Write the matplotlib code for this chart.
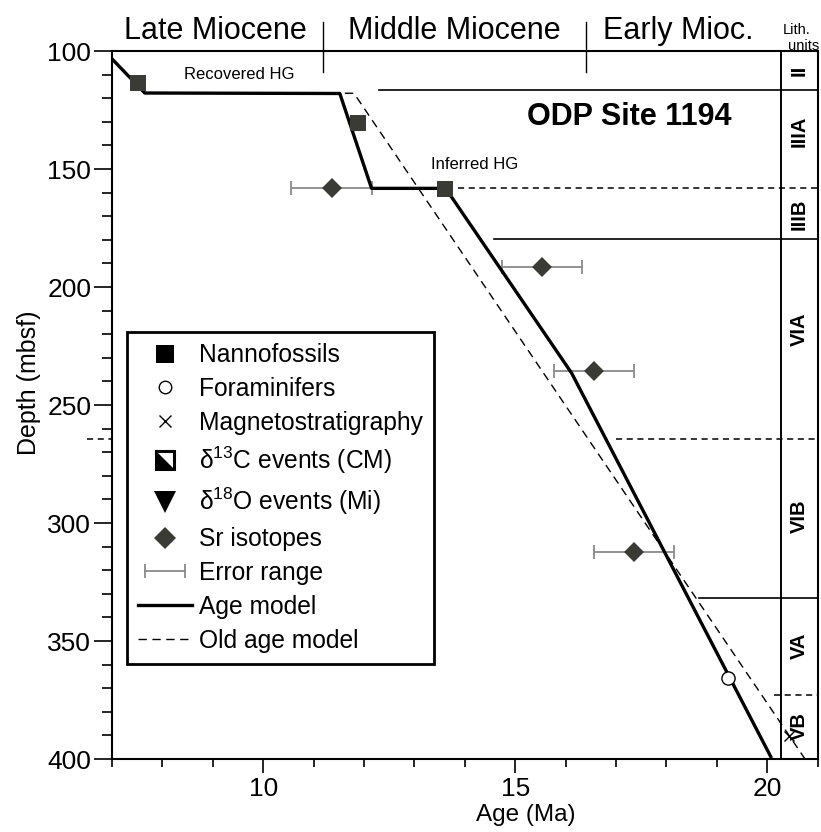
import numpy as np
import matplotlib
matplotlib.use("Agg")
import matplotlib.pyplot as plt
from matplotlib.lines import Line2D
from matplotlib.path import Path
from matplotlib.legend_handler import HandlerLine2D, HandlerTuple

plt.rcParams['font.family'] = ['Liberation Sans', 'DejaVu Sans']
plt.rcParams['mathtext.fontset'] = 'custom'
plt.rcParams['mathtext.rm'] = 'Liberation Sans'

# --- age model (age in Ma, depth in mbsf) ---
age_model_age = [6.99, 7.65, 11.52, 12.15, 13.62, 16.12, 20.07]
age_model_depth = [103.1, 117.8, 118.0, 158.2, 158.2, 236.5, 399.0]

old_model_age = [11.62, 11.80, 20.75]
old_model_depth = [117.9, 117.9, 400.0]

# --- datums ---
nanno_age = [7.52, 11.89, 13.61]
nanno_depth = [113.6, 130.4, 158.6]

sr_age = np.array([11.36, 15.53, 16.56, 17.36])
sr_depth = [158.2, 191.4, 235.5, 312.4]
sr_err_lo = np.array([10.56, 14.73, 15.77, 16.57])
sr_err_hi = np.array([12.15, 16.33, 17.36, 18.16])

foram_age = [19.23]
foram_depth = [365.5]

magneto_age = [20.44]
magneto_depth = [390.3]

# --- lithologic units ---
lith_units = ['II', 'IIIA', 'IIIB', 'VIA', 'VIB', 'VA', 'VB']
lith_label_depth = [108, 134, 169, 218, 297, 352, 386]
lith_bounds = [116.5, 158.2, 179.7, 264.5, 331.9, 372.9]
lith_bound_start = [12.3, 13.87, 14.58, 17.0, 18.65, 20.13]
lith_bound_dashed = [False, True, False, True, False, True]
lith_col_age = 20.27

# --- epochs ---
epoch_names = ['Late Miocene', 'Middle Miocene', 'Early Mioc.']
epoch_label_age = [9.05, 13.8, 18.23]
epoch_bounds = [11.19, 16.40]

dark = '#3b3b36'
err_gray = '#8a8a8a'

fig = plt.figure(figsize=(8.21, 8.32), dpi=100, facecolor='white')
ax = fig.add_axes([0.1364, 0.0877, 0.8595, 0.851])

ax.set_xlim(7, 21)
ax.set_ylim(400, 100)

# error bars and Sr isotope ages
ax.errorbar(sr_age, sr_depth, xerr=[sr_age - sr_err_lo, sr_err_hi - sr_age],
            fmt='none', ecolor=err_gray, elinewidth=1.3, capsize=4.7, capthick=1.3, zorder=2)

# age models
ax.plot(old_model_age, old_model_depth, color='black', lw=1.0, dashes=(6, 4), zorder=3)
ax.plot(age_model_age, age_model_depth, color='black', lw=2.4, zorder=4)

ax.plot(sr_age, sr_depth, ls='none', marker='D', ms=10.5, color=dark, mew=0, zorder=5)
ax.plot(nanno_age, nanno_depth, ls='none', marker='s', ms=11, color=dark, mew=0, zorder=5)
ax.plot(foram_age, foram_depth, ls='none', marker='o', ms=9.5, mfc='white', mec='black',
        mew=1.0, zorder=5)
ax.plot(magneto_age, magneto_depth, ls='none', marker='x', ms=7, color='black', mew=1.0, zorder=5)

# lithologic column
ax.axvline(lith_col_age, color='black', lw=1.4)
for d, a0, dashed in zip(lith_bounds, lith_bound_start, lith_bound_dashed):
    if dashed:
        ax.plot([a0, 21], [d, d], color='black', lw=1.1, dashes=(4, 3))
    else:
        ax.plot([a0, 21], [d, d], color='black', lw=1.2)
# unit VIA/VIB boundary marked outside the depth axis
ax.plot([6.5, 7.0], [lith_bounds[3], lith_bounds[3]], color='black', lw=1.1,
        dashes=(4, 3), clip_on=False)
for name, d in zip(lith_units, lith_label_depth):
    ax.text((lith_col_age + 21) / 2, d, name, rotation=90, ha='center', va='center',
            fontsize=14.5, fontweight='bold')
ax.text(20.59, 91.1, 'Lith.', ha='center', va='center', fontsize=10.5, clip_on=False)
ax.text(20.73, 97.9, 'units', ha='center', va='center', fontsize=10.5, clip_on=False)

# epoch header
for a in epoch_bounds:
    ax.plot([a, a], [87.7, 108.7], color='black', lw=1.0, clip_on=False)
for name, a in zip(epoch_names, epoch_label_age):
    ax.text(a, 91.5, name, ha='center', va='center', fontsize=22, clip_on=False)

ax.text(9.52, 110, 'Recovered HG', ha='center', va='center', fontsize=12)
ax.text(14.2, 148, 'Inferred HG', ha='center', va='center', fontsize=12)
ax.text(17.27, 128, 'ODP Site 1194', ha='center', va='center', fontsize=22, fontweight='bold')

# axes and ticks
ax.set_xticks([10, 15, 20])
ax.set_xticks(np.arange(7, 22, 1), minor=True)
ax.set_yticks(np.arange(100, 401, 50))
ax.set_yticks(np.arange(100, 401, 10), minor=True)
ax.tick_params(axis='x', which='major', length=10, width=1.2, labelsize=19, pad=3)
ax.tick_params(axis='x', which='minor', length=6, width=1.2)
ax.tick_params(axis='y', which='major', length=13, width=1.2, labelsize=19, pad=2)
ax.tick_params(axis='y', which='minor', length=7, width=1.2)
for s in ax.spines.values():
    s.set_linewidth(1.5)

ax.set_xlabel('Age (Ma)', fontsize=17.5)
ax.xaxis.set_label_coords(0.587, -0.064)
ax.set_ylabel('Depth (mbsf)', fontsize=18)
ax.yaxis.set_label_coords(-0.100, 0.532)

# legend
half_sq = Path([(-1, -1), (-1, 1), (1, -1), (-1, -1)], closed=True)
h_nanno = Line2D([], [], ls='none', marker='s', ms=13, color='black', mew=0)
h_foram = Line2D([], [], ls='none', marker='o', ms=9, mfc='white', mec='black', mew=1.0)
h_mag = Line2D([], [], ls='none', marker='x', ms=8, color='black', mew=1.0)
h_c13_box = Line2D([], [], ls='none', marker='s', ms=13, mfc='white', mec='black', mew=2.2)
h_c13_tri = Line2D([], [], ls='none', marker=half_sq, ms=13, color='black', mew=0)
h_o18 = Line2D([], [], ls='none', marker='v', ms=16, color='black', mew=0)
h_sr = Line2D([], [], ls='none', marker='D', ms=11, color=dark, mew=0)
h_err = Line2D([], [], color=err_gray, lw=1.3, marker='|', ms=10, mew=1.3)
h_age = Line2D([], [], color='black', lw=2.4)
h_old = Line2D([], [], color='black', lw=1.0, dashes=(6, 4))

handles = [h_nanno, h_foram, h_mag, (h_c13_box, h_c13_tri), h_o18, h_sr, h_err, h_age, h_old]
labels = ['Nannofossils', 'Foraminifers', 'Magnetostratigraphy',
          r'δ$^{\mathrm{13}}$C events (CM)', r'δ$^{\mathrm{18}}$O events (Mi)',
          'Sr isotopes', 'Error range', 'Age model', 'Old age model']
leg = ax.legend(handles, labels, loc='upper left', bbox_to_anchor=(0.021, 0.603),
                fontsize=17.7, frameon=True, fancybox=False, edgecolor='black',
                framealpha=1, borderpad=0.45, labelspacing=0.4, handlelength=2.2,
                handletextpad=0.3, borderaxespad=0,
                handler_map={h_err: HandlerLine2D(numpoints=2),
                             tuple: HandlerTuple(ndivide=1)})
leg.get_frame().set_linewidth(2.0)

fig.savefig('out.png', dpi=100, facecolor='white')
